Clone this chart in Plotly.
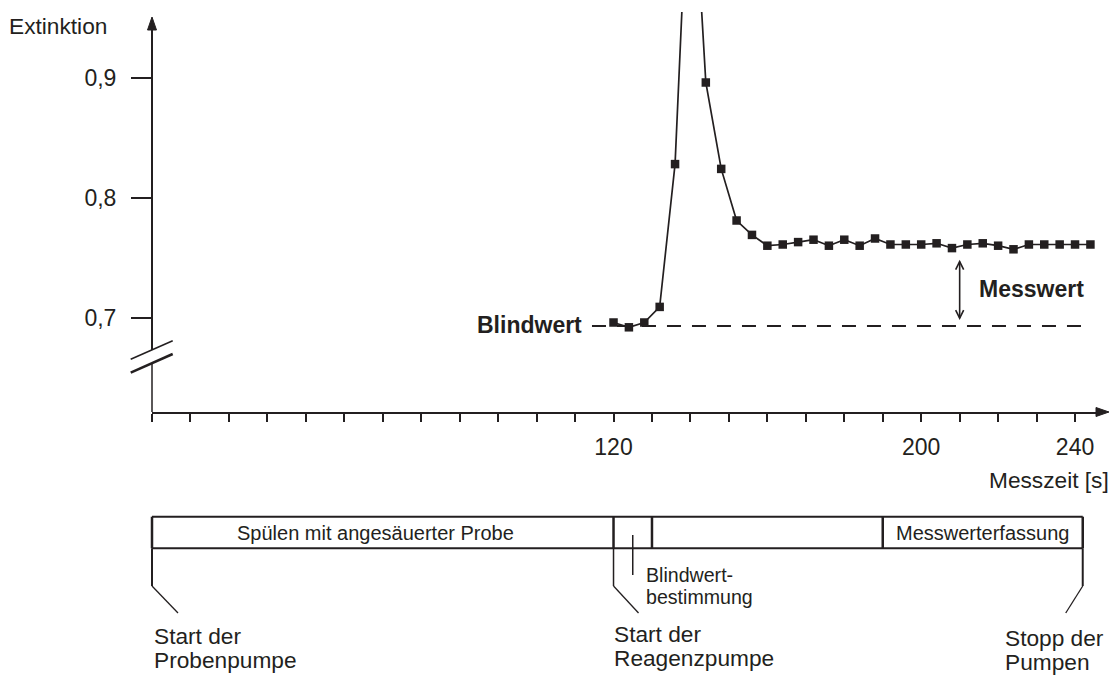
import plotly.graph_objects as go

# ---------------- data ----------------
time_s = [120, 124, 128, 132, 136, 140, 144, 148, 152, 156, 160, 164, 168, 172, 176, 180,
          184, 188, 192, 196, 200, 204, 208, 212, 216, 220, 224, 228, 232, 236, 240, 244]
extinktion = [0.696, 0.692, 0.696, 0.709, 0.828, 1.115, 0.896, 0.824, 0.781, 0.769, 0.760,
              0.761, 0.763, 0.765, 0.760, 0.765, 0.760, 0.766, 0.761, 0.761, 0.761, 0.762,
              0.758, 0.761, 0.762, 0.760, 0.757, 0.761, 0.761, 0.761, 0.761, 0.761]
blindwert = 0.693
blind_x = [114.4, 243.4]
messwert_x = 210
messwert_top = 0.7467

x_tickvals = list(range(0, 241, 10))
x_labels = {120: "120", 200: "200", 240: "240"}
y_tickvals = [0.7, 0.8, 0.9]
y_ticktext = ["0,7", "0,8", "0,9"]

# phases of the measurement cycle (seconds)
phase_edges = [0, 120, 130, 190, 242]
phase_labels = ["Spülen mit angesäuerter Probe", "", "", "Messwerterfassung"]
blind_phase_mark = 125

# ---------------- layout geometry ----------------
W, H = 1116, 676
L, R, T, B = 152, 16, 12, 264
PW, PH = W - L - R, H - T - B
PX_PER_S = 3.846
XR = [0, PW / PX_PER_S]
PX_PER_UNIT = 1200.0
Y0 = 0.7 - (412 - 317.7) / PX_PER_UNIT
YR = [Y0, Y0 + PH / PX_PER_UNIT]

INK = "#231f20"
FONT = "Liberation Sans, Arial, Helvetica, sans-serif"


def xp(t):
    return (t - XR[0]) / (XR[1] - XR[0])


def pxx(px):
    return (px - L) / PW


def pxy(py):
    return (H - B - py) / PH


def ypx(v):
    return (H - B) - (v - YR[0]) * PX_PER_UNIT


fig = go.Figure()

fig.add_trace(go.Scatter(
    x=blind_x, y=[blindwert, blindwert], mode="lines",
    line=dict(color=INK, width=2, dash="14px,11px"), hoverinfo="skip", showlegend=False))

fig.add_trace(go.Scatter(
    x=time_s, y=extinktion, mode="lines+markers",
    line=dict(color=INK, width=1.7),
    marker=dict(symbol="square", size=8.5, color=INK),
    showlegend=False))

shapes = []


def seg(x0, y0, x1, y1, w=2):
    shapes.append(dict(type="line", xref="paper", yref="paper", x0=x0, y0=y0, x1=x1, y1=y1,
                       line=dict(color=INK, width=w)))


# y axis (drawn with a break)
seg(0, pxy(29), 0, pxy(350), 2)
seg(0, pxy(363), 0, 0, 1.5)
seg(pxx(130.7), pxy(359.3), pxx(172.7), pxy(340.7), 1.5)
seg(pxx(130.7), pxy(372.7), pxx(172.7), pxy(354), 2.5)
shapes.append(dict(type="path", xref="paper", yref="paper",
                   path=f"M {pxx(152)} {pxy(17)} L {pxx(147.5)} {pxy(30)} L {pxx(156.5)} {pxy(30)} Z",
                   fillcolor=INK, line=dict(color=INK, width=1)))
# x axis arrow head
shapes.append(dict(type="path", xref="paper", yref="paper",
                   path=f"M {pxx(1109)} {pxy(412)} L {pxx(1096)} {pxy(407.5)} L {pxx(1096)} {pxy(416.5)} Z",
                   fillcolor=INK, line=dict(color=INK, width=1)))
seg(1.0, 0, pxx(1098), 0, 2)

# Messwert double arrow
mx = xp(messwert_x)
top_py = ypx(messwert_top)
bot_py = ypx(blindwert) - 8
seg(mx, pxy(top_py), mx, pxy(bot_py), 1.6)
shapes.append(dict(type="path", xref="paper", yref="paper",
                   path=f"M {mx - 4/PW} {pxy(top_py + 8)} L {mx} {pxy(top_py)} L {mx + 4/PW} {pxy(top_py + 8)}",
                   line=dict(color=INK, width=1.6)))
shapes.append(dict(type="path", xref="paper", yref="paper",
                   path=f"M {mx - 4/PW} {pxy(bot_py - 8)} L {mx} {pxy(bot_py)} L {mx + 4/PW} {pxy(bot_py - 8)}",
                   line=dict(color=INK, width=1.6)))

# lower timeline box
box_top, box_bot = 516.7, 548.3
seg(xp(phase_edges[0]), pxy(box_top), xp(phase_edges[-1]), pxy(box_top), 2)
seg(xp(phase_edges[0]), pxy(box_bot), xp(phase_edges[-1]), pxy(box_bot), 2)
for e in phase_edges:
    seg(xp(e), pxy(box_top), xp(e), pxy(box_bot), 2.5)

# blind value marker
seg(xp(blind_phase_mark), pxy(535), xp(blind_phase_mark), pxy(575), 1.5)

# pump start / stop leaders
for e, dx in [(phase_edges[0], 26), (phase_edges[1], 25), (phase_edges[-1], -17)]:
    x0 = xp(e)
    seg(x0, pxy(box_bot), x0, pxy(586), 2 if e != phase_edges[1] else 1.5)
    seg(x0, pxy(586), x0 + dx / PW, pxy(613), 1.3)

annotations = []


def txt(x, y, s, size=21, xanchor="left", bold=False):
    annotations.append(dict(
        x=x, y=y, xref="paper", yref="paper",
        text=f"<b>{s}</b>" if bold else s, showarrow=False,
        xanchor=xanchor, yanchor="middle",
        font=dict(family=FONT, size=size, color=INK)))


BIG = 22.7
txt(pxx(7), pxy(26), "Extinktion", BIG)
txt(pxx(1111), pxy(480), "Messzeit [s]", BIG, xanchor="right")

for i, lab in enumerate(phase_labels):
    if lab:
        c = (phase_edges[i] + phase_edges[i + 1]) / 2
        if i == 0:
            c -= 2
        txt(xp(c), pxy(533), lab, 20, xanchor="center")

txt(pxx(644), pxy(575), "Blindwert-", 19.6)
txt(pxx(644), pxy(597), "bestimmung", 19.6)

txt(xp(phase_edges[0]), pxy(636), "Start der", BIG)
txt(xp(phase_edges[0]), pxy(660), "Probenpumpe", BIG)
txt(xp(phase_edges[1]) - 2 / PW, pxy(634), "Start der", BIG)
txt(xp(phase_edges[1]) - 2 / PW, pxy(658), "Reagenzpumpe", BIG)
txt(pxx(1003), pxy(638), "Stopp der", BIG)
txt(pxx(1003), pxy(662), "Pumpen", BIG)

annotations.append(dict(x=blind_x[0] - 2.2, y=blindwert + 0.001, xref="x", yref="y",
                        text="<b>Blindwert</b>", showarrow=False, xanchor="right", yanchor="middle",
                        font=dict(family=FONT, size=23, color=INK)))
annotations.append(dict(x=messwert_x + 4.4, y=(messwert_top + blindwert) / 2 + 0.004, xref="x", yref="y",
                        text="<b>Messwert</b>", showarrow=False, xanchor="left", yanchor="middle",
                        font=dict(family=FONT, size=23, color=INK)))

fig.update_layout(
    width=W, height=H,
    margin=dict(l=L, r=R, t=T, b=B, pad=0),
    paper_bgcolor="white", plot_bgcolor="white",
    shapes=shapes, annotations=annotations,
    xaxis=dict(range=XR, showgrid=False, zeroline=False, showline=True, linecolor=INK, linewidth=2,
               ticks="outside", ticklen=8, tickwidth=2, tickcolor=INK,
               tickvals=x_tickvals, ticktext=[x_labels.get(v, "") for v in x_tickvals],
               tickfont=dict(family=FONT, size=23, color=INK), ticklabelstandoff=5, fixedrange=True),
    yaxis=dict(range=YR, showgrid=False, zeroline=False, showline=False,
               ticks="outside", ticklen=20, tickwidth=2, tickcolor=INK,
               tickvals=y_tickvals, ticktext=y_ticktext,
               tickfont=dict(family=FONT, size=23, color=INK), ticklabelstandoff=10, fixedrange=True),
    showlegend=False,
)

fig.write_html("out.html", config={"displayModeBar": False})
